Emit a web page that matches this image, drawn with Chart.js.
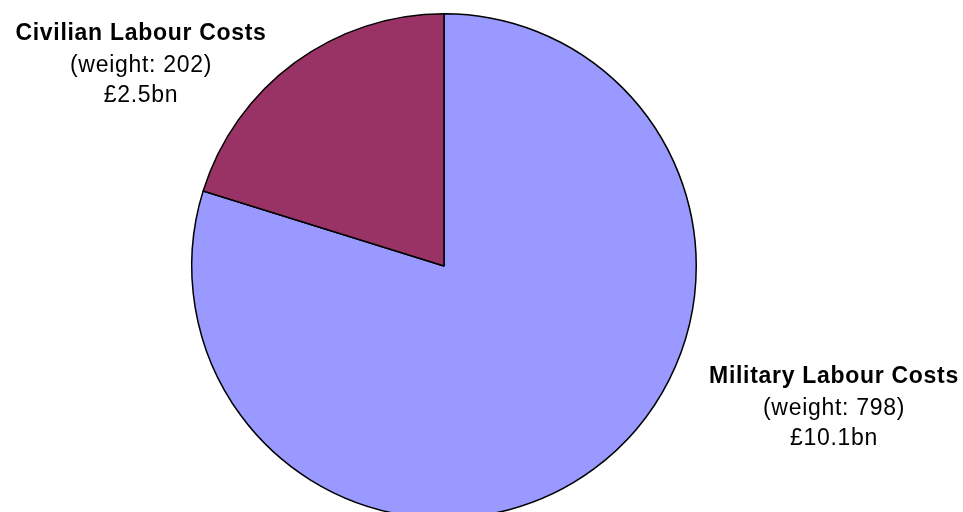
<!DOCTYPE html>
<html>
<head>
<meta charset="utf-8">
<script src="https://cdn.jsdelivr.net/npm/chart.js@4/dist/chart.umd.min.js"></script>
<style>
  html, body { margin: 0; padding: 0; background: #fff; overflow: hidden; }
  #wrap { width: 963px; height: 532px; }
</style>
</head>
<body>
<div id="wrap"><canvas id="pieChart" width="963" height="532"></canvas></div>
<script>
const categories = ['Military Labour Costs', 'Civilian Labour Costs'];
const weights = [798, 202];
const costs = ['£10.1bn', '£2.5bn'];
const sliceColors = ['#9999ff', '#993366'];

// caption anchor for each slice: centre x, baseline of first line
const labelPos = [
    { x: 834, y: 383 },
    { x: 141, y: 40 }
];

const captionPlugin = {
    id: 'captions',
    afterDraw(chart) {
        const c = chart.ctx;
        c.save();
        c.fillStyle = '#000';
        c.textAlign = 'center';
        c.textBaseline = 'alphabetic';
        c.letterSpacing = '0.7px';
        categories.forEach((name, i) => {
            const p = labelPos[i];
            c.font = 'bold 23px "Liberation Sans", Arial, sans-serif';
            c.fillText(name, p.x, p.y);
            c.font = '23px "Liberation Sans", Arial, sans-serif';
            c.fillText('(weight: ' + weights[i] + ')', p.x, p.y + 32);
            c.fillText(costs[i], p.x, p.y + 62);
        });
        c.restore();
    }
};

const ctx = document.getElementById('pieChart').getContext('2d');
const myChart = new Chart(ctx, {
    type: 'pie',
    data: {
        labels: categories,
        datasets: [{
            data: weights,
            backgroundColor: sliceColors,
            borderColor: '#000',
            borderWidth: 1.5
        }]
    },
    options: {
        responsive: false,
        animation: false,
        rotation: 0,
        layout: {
            padding: { left: 191, right: 266, top: 13, bottom: 13 }
        },
        plugins: {
            legend: { display: false },
            tooltip: { enabled: false }
        }
    },
    plugins: [captionPlugin]
});
</script>
</body>
</html>
